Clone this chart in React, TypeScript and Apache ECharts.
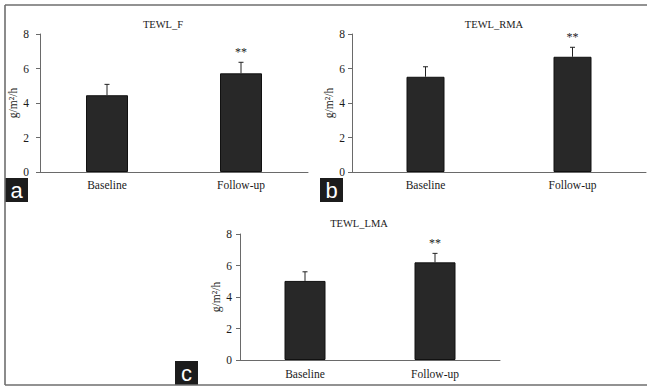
import React, { useEffect, useRef } from "react";
import * as echarts from "echarts";

const categories = ["Baseline", "Follow-up"];
const yTicks = [0, 2, 4, 6, 8];
const significance = ["", "**"];

const fTitle = "TEWL_F";
const fValues = [4.45, 5.72];
const fErrors = [0.63, 0.64];

const rmaTitle = "TEWL_RMA";
const rmaValues = [5.52, 6.68];
const rmaErrors = [0.58, 0.55];

const lmaTitle = "TEWL_LMA";
const lmaValues = [5.02, 6.2];
const lmaErrors = [0.58, 0.57];

const yName = "g/m²/h";
const panelLetters = ["a", "b", "c"];

const SERIF = "'Liberation Serif', 'Times New Roman', serif";
const TEXT = "#1a1a1a";
const AXIS = "#6a6a6a";

export default function App() {
  const ref = useRef<HTMLDivElement>(null);

  useEffect(() => {
    if (!ref.current) return;
    const chart = echarts.init(ref.current, null, { renderer: "svg" });

    const grids = [
      { left: 40, top: 34, width: 268, height: 138 },
      { left: 352, top: 34, width: 294, height: 138 },
      { left: 240, top: 234, width: 260, height: 126 },
    ];
    const panels = [
      { title: fTitle, values: fValues, errors: fErrors, barWidth: 42, labelMargin: 11, nameGap: 17, tx: 158, ty: 19, xMargin: 7 },
      { title: rmaTitle, values: rmaValues, errors: rmaErrors, barWidth: 38, labelMargin: 7, nameGap: 14, tx: 489, ty: 19, xMargin: 7 },
      { title: lmaTitle, values: lmaValues, errors: lmaErrors, barWidth: 41, labelMargin: 8, nameGap: 15, tx: 354, ty: 218, xMargin: 8 },
    ];

    const xAxes = panels.map((p, i) => ({
      type: "category",
      gridIndex: i,
      data: categories,
      axisLine: { lineStyle: { color: AXIS, width: 1 } },
      axisTick: { show: false },
      axisLabel: { color: TEXT, fontFamily: SERIF, fontSize: 11.5, margin: p.xMargin },
    }));
    const yAxes = panels.map((p, i) => ({
      type: "value",
      gridIndex: i,
      min: yTicks[0],
      max: yTicks[yTicks.length - 1],
      interval: yTicks[1] - yTicks[0],
      name: yName,
      nameLocation: "middle",
      nameGap: p.nameGap,
      nameRotate: 90,
      nameTextStyle: { color: TEXT, fontFamily: SERIF, fontSize: 11.5 },
      splitLine: { show: false },
      axisLine: { show: true, lineStyle: { color: AXIS, width: 1 } },
      axisTick: { show: true, length: 4, lineStyle: { color: AXIS } },
      axisLabel: { color: TEXT, fontFamily: SERIF, fontSize: 11.5, margin: p.labelMargin },
    }));

    const series: any[] = [];
    panels.forEach((p, i) => {
      series.push({
        type: "bar",
        xAxisIndex: i,
        yAxisIndex: i,
        data: p.values,
        barWidth: p.barWidth,
        itemStyle: { color: "#282828", borderColor: "#111", borderWidth: 1 },
        z: 2,
      });
      series.push({
        type: "custom",
        xAxisIndex: i,
        yAxisIndex: i,
        data: p.values.map((v, k) => [k, v, p.errors[k]]),
        encode: { x: 0, y: 1 },
        z: 3,
        renderItem: (params: any, api: any) => {
          const idx = api.value(0);
          const v = api.value(1);
          const e = api.value(2);
          const base = api.coord([idx, v]);
          const top = api.coord([idx, v + e]);
          const children: any[] = [
            {
              type: "line",
              shape: { x1: base[0], y1: base[1], x2: top[0], y2: top[1] },
              style: { stroke: "#222", lineWidth: 1 },
            },
            {
              type: "line",
              shape: { x1: top[0] - 2.5, y1: top[1], x2: top[0] + 2.5, y2: top[1] },
              style: { stroke: "#222", lineWidth: 1 },
            },
          ];
          const s = significance[params.dataIndex];
          if (s) {
            children.push({
              type: "text",
              style: {
                text: s,
                x: top[0],
                y: top[1] - 4,
                align: "center",
                verticalAlign: "bottom",
                fill: TEXT,
                font: `12px ${SERIF}`,
              },
            });
          }
          return { type: "group", children };
        },
      });
    });

    const frame = [
      { x1: 5, y1: 5, x2: 647, y2: 5 },
      { x1: 5, y1: 5, x2: 5, y2: 385 },
      { x1: 5, y1: 385, x2: 647, y2: 385 },
    ].map((shape) => ({
      type: "line",
      shape,
      style: { stroke: "#6e6e6e", lineWidth: 1.6 },
      z: 10,
    }));

    const boxes = [
      { x: 5, y: 178 },
      { x: 320, y: 178 },
      { x: 175, y: 361 },
    ].map((b, i) => ({
      type: "group",
      x: b.x,
      y: b.y,
      z: 20,
      children: [
        { type: "rect", shape: { x: 0, y: 0, width: 23, height: 24 }, style: { fill: "#1c1c1c" } },
        {
          type: "text",
          style: {
            text: panelLetters[i],
            x: 11.5,
            y: 12,
            align: "center",
            verticalAlign: "middle",
            fill: "#ffffff",
            font: "22px 'Liberation Sans', Arial, sans-serif",
          },
        },
      ],
    }));

    chart.setOption({
      animation: false,
      backgroundColor: "#ffffff",
      title: panels.map((p) => ({
        text: p.title,
        left: p.tx,
        top: p.ty,
        textAlign: "center",
        textVerticalAlign: "middle",
        textStyle: { color: TEXT, fontFamily: SERIF, fontSize: 10.5, fontWeight: "normal" },
      })),
      grid: grids,
      xAxis: xAxes,
      yAxis: yAxes,
      series,
      graphic: [...frame, ...boxes],
    });

    return () => chart.dispose();
  }, []);

  return (
    <div
      ref={ref}
      style={{ position: "fixed", left: 0, top: 0, width: 647, height: 388, background: "#fff" }}
    />
  );
}
